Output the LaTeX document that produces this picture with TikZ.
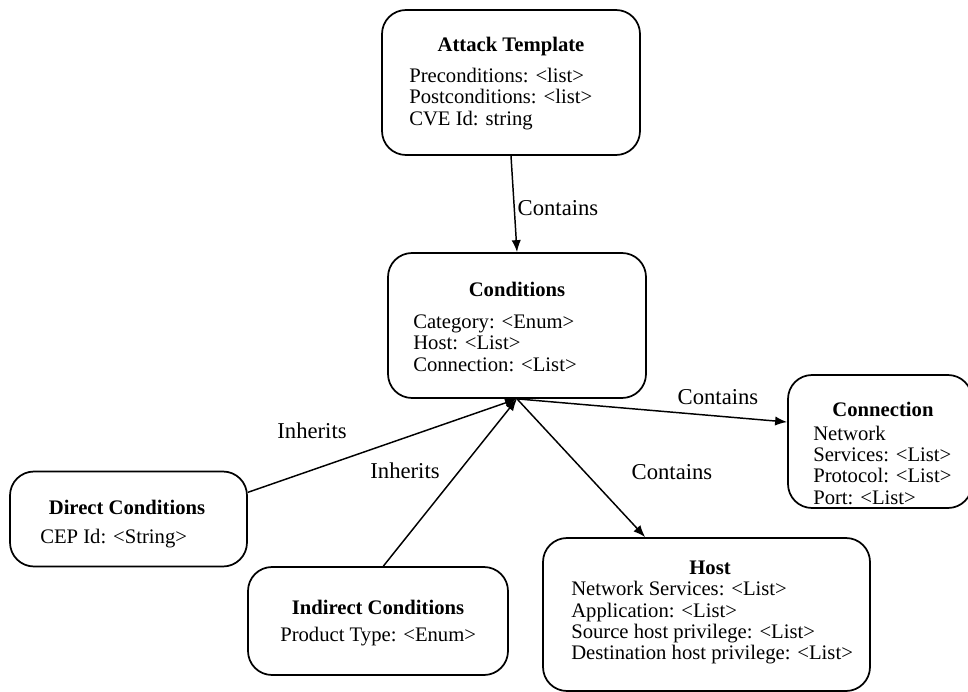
\documentclass[tikz,border=0pt]{standalone}
\usepackage{fontspec}
\setmainfont{Liberation Serif}
\usetikzlibrary{arrows.meta,positioning}

\tikzset{
  classbox/.style={draw, line width=1.3pt, rounded corners=18pt},
  classtitle/.style={font=\fontsize{15.5}{16}\selectfont\bfseries, inner sep=0pt},
  classbody/.style={font=\fontsize{15.5}{16}\selectfont, align=left, anchor=west, inner sep=0pt},
  rellabel/.style={font=\fontsize{17}{20}\selectfont, inner sep=0pt},
  relarrow/.style={line width=1.1pt, -{Latex[length=9pt,width=7pt]}}
}

\begin{document}
\begin{tikzpicture}[x=0.75pt, y=-0.75pt]
            \useasboundingbox (0,0) rectangle (968,692);

            % Attack template
            \node[classbox, minimum width=193.5pt, minimum height=108.75pt] (attack) at (511,82.5) {};
            \node[classtitle] (attacktitle) at (511,47) {Attack Template};
            \node[classbody] (attackbody) at (409,99) {Preconditions: <list>\\Postconditions: <list>\\CVE Id: string};

            % Conditions
            \node[classbox, minimum width=193.5pt, minimum height=108.75pt] (cond) at (517,325.5) {};
            \node[classtitle] (condtitle) at (517,289) {Conditions};
            \node[classbody] (condbody) at (413,343) {Category: <Enum>\\Host: <List>\\Connection: <List>};

            % Connection
            \node[classbox, minimum width=138pt, minimum height=99.75pt] (conn) at (880,441.5) {};
            \node[classtitle] (conntitle) at (883,409) {Connection};
            \node[classbody] (connbody) at (813,465) {Network\\Services: <List>\\Protocol: <List>\\Port: <List>};

            % Host
            \node[classbox, minimum width=245.25pt, minimum height=114.75pt] (host) at (706.5,614.5) {};
            \node[classtitle] (hosttitle) at (710,568) {Host};
            \node[classbody] (hostbody) at (571,623) {Network Services: <List>\\Application: <List>\\Source host privilege: <List>\\Destination host privilege: <List>};

            % Direct and indirect conditions
            \node[classbox, minimum width=177.75pt, minimum height=71.25pt] (direct) at (128.5,519) {};
            \node[classtitle] (directtitle) at (127,507) {Direct Conditions};
            \node[classbody] (directbody) at (40,539) {CEP Id: <String>};

            \node[classbox, minimum width=195pt, minimum height=81pt] (indirect) at (378,621) {};
            \node[classtitle] (indirecttitle) at (378,607) {Indirect Conditions};
            \node[classbody] (indirectbody) at (280,637) {Product Type: <Enum>};

            % Relations
            \draw[relarrow] (attack.south) -- (cond.north);
            \node[rellabel] (containsA) at (558,208) {Contains};

            \draw[relarrow] ([yshift=20pt]direct.east) -- (cond.south);
            \node[rellabel] (inheritsA) at (312,431) {Inherits};

            \draw[relarrow] ([xshift=4pt]indirect.north) -- (cond.south);
            \node[rellabel] (inheritsB) at (405,471) {Inherits};

            \draw[relarrow] (cond.south) -- ([yshift=14.6pt]conn.west);
            \node[rellabel] (containsB) at (718,397) {Contains};

            \draw[relarrow] (cond.south) -- ([xshift=-46pt]host.north);
            \node[rellabel] (containsC) at (672,472) {Contains};
        \end{tikzpicture}
\end{document}
